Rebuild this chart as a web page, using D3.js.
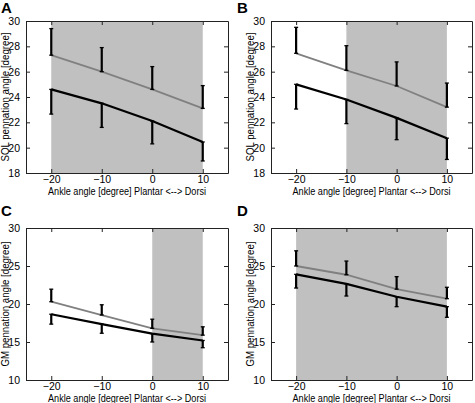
<!DOCTYPE html>
<html><head><meta charset="utf-8">
<script src="https://cdn.jsdelivr.net/npm/d3@7"></script>
<style>
body{margin:0;background:#fff;}
text{font-family:"Liberation Sans",Arial,sans-serif;}
</style></head>
<body><svg id="c" width="475" height="403"></svg>
<script>
const angles = [-20, -10, 0, 10];
const xTicks = [-20, -10, 0, 10];
const xLabel = "Ankle angle [degree] Plantar <--> Dorsi";

const A_gray = [27.3, 26.0, 24.6, 23.1];
const A_grayErr = [2.1, 1.9, 1.8, 1.8];
const A_black = [24.6, 23.5, 22.1, 20.45];
const A_blackErr = [1.95, 1.9, 1.8, 1.5];

const B_gray = [27.45, 26.1, 24.87, 23.2];
const B_grayErr = [2.05, 1.95, 1.9, 1.9];
const B_black = [25.0, 23.8, 22.35, 20.75];
const B_blackErr = [1.95, 1.9, 1.72, 1.68];

const C_gray = [20.3, 18.55, 16.8, 15.9];
const C_grayErr = [1.65, 1.35, 1.2, 1.1];
const C_black = [18.65, 17.35, 16.1, 15.2];
const C_blackErr = [1.3, 1.2, 1.1, 0.95];

const D_gray = [25.0, 23.85, 21.95, 20.7];
const D_grayErr = [2.0, 1.8, 1.65, 1.5];
const D_black = [23.9, 22.65, 20.95, 19.65];
const D_blackErr = [1.8, 1.6, 1.3, 1.4];

const solTicks = [18, 20, 22, 24, 26, 28, 30];
const gmTicks = [10, 15, 20, 25, 30];

const panels = [
  {id:"A", gray:A_gray, gErr:A_grayErr, black:A_black, bErr:A_blackErr, shade:[-20,10], yDom:[18,30], yTicks:solTicks, yLabel:"SOL pennation angle [degree]", yLen:129, box:[26,228,21,173], lab:[1,13]},
  {id:"B", gray:B_gray, gErr:B_grayErr, black:B_black, bErr:B_blackErr, shade:[-10,10], yDom:[18,30], yTicks:solTicks, yLabel:"SOL pennation angle [degree]", yLen:129, box:[271,472,21,173], lab:[237,13]},
  {id:"C", gray:C_gray, gErr:C_grayErr, black:C_black, bErr:C_blackErr, shade:[0,10], yDom:[10,30], yTicks:gmTicks, yLabel:"GM pennation angle [degree]", yLen:125, box:[26,228,228,380], lab:[1,216]},
  {id:"D", gray:D_gray, gErr:D_grayErr, black:D_black, bErr:D_blackErr, shade:[-20,10], yDom:[10,30], yTicks:gmTicks, yLabel:"GM pennation angle [degree]", yLen:125, box:[271,472,228,380], lab:[237,216]}
];

const svg = d3.select("#c");
const tickLen = 4;

panels.forEach(p => {
  const [x0,x1,y0,y1] = p.box;
  const x = d3.scaleLinear().domain([-25,15]).range([x0,x1]);
  const y = d3.scaleLinear().domain(p.yDom).range([y1,y0]);
  const g = svg.append("g");

  g.append("text").attr("x",p.lab[0]).attr("y",p.lab[1]).text(p.id)
    .attr("font-size",15).attr("font-weight","bold").attr("fill","#000");

  g.append("rect").attr("x",x(p.shade[0])).attr("y",y0)
    .attr("width",x(p.shade[1])-x(p.shade[0])).attr("height",y1-y0)
    .attr("fill","#c0c0c0");

  const xb = g.append("g").attr("transform",`translate(0,${y1})`)
    .call(d3.axisBottom(x).tickValues(xTicks).tickSizeInner(-tickLen).tickSizeOuter(0).tickPadding(3));
  const xt = g.append("g").attr("transform",`translate(0,${y0})`)
    .call(d3.axisTop(x).tickValues(xTicks).tickSizeInner(-tickLen).tickSizeOuter(0).tickFormat(""));
  const yl = g.append("g").attr("transform",`translate(${x0},0)`)
    .call(d3.axisLeft(y).tickValues(p.yTicks).tickSizeInner(-tickLen).tickSizeOuter(0).tickPadding(6));
  const yr = g.append("g").attr("transform",`translate(${x1},0)`)
    .call(d3.axisRight(y).tickValues(p.yTicks).tickSizeInner(-tickLen).tickSizeOuter(0).tickFormat(""));
  [xb,xt,yl,yr].forEach(a=>{
    a.select(".domain").attr("stroke","#222").attr("stroke-width",1);
    a.selectAll(".tick line").attr("stroke","#222");
    a.selectAll("text").attr("font-size",10.5).attr("fill","#000").attr("font-family","Liberation Sans, Arial, sans-serif");
  });

  g.append("text").attr("x",(x0+x1)/2).attr("y",y1+22).attr("text-anchor","middle")
    .attr("font-size",10.5).attr("textLength",158).attr("lengthAdjust","spacingAndGlyphs").text(xLabel);
  g.append("text").attr("transform",`translate(${x0-17},${(y0+y1)/2}) rotate(-90)`)
    .attr("text-anchor","middle").attr("font-size",10.5)
    .attr("textLength",p.yLen).attr("lengthAdjust","spacingAndGlyphs").text(p.yLabel);

  const line = d3.line().x((d,i)=>x(angles[i])).y(d=>y(d));
  g.append("path").datum(p.gray).attr("d",line).attr("fill","none").attr("stroke","#808080").attr("stroke-width",1.8);
  g.append("path").datum(p.black).attr("d",line).attr("fill","none").attr("stroke","#000").attr("stroke-width",2.2);

  const bars = [];
  angles.forEach((a,i)=>{
    bars.push({a, from:p.gray[i], to:p.gray[i]+p.gErr[i]});
    bars.push({a, from:p.black[i], to:p.black[i]-p.bErr[i]});
  });
  bars.forEach(b=>{
    g.append("line").attr("x1",x(b.a)).attr("x2",x(b.a)).attr("y1",y(b.from)).attr("y2",y(b.to))
      .attr("stroke","#000").attr("stroke-width",2.2);
    [b.from,b.to].forEach(v=>{
      g.append("line").attr("x1",x(b.a)-2).attr("x2",x(b.a)+2).attr("y1",y(v)).attr("y2",y(v))
        .attr("stroke","#000").attr("stroke-width",1.3);
    });
  });
});
</script></body></html>
